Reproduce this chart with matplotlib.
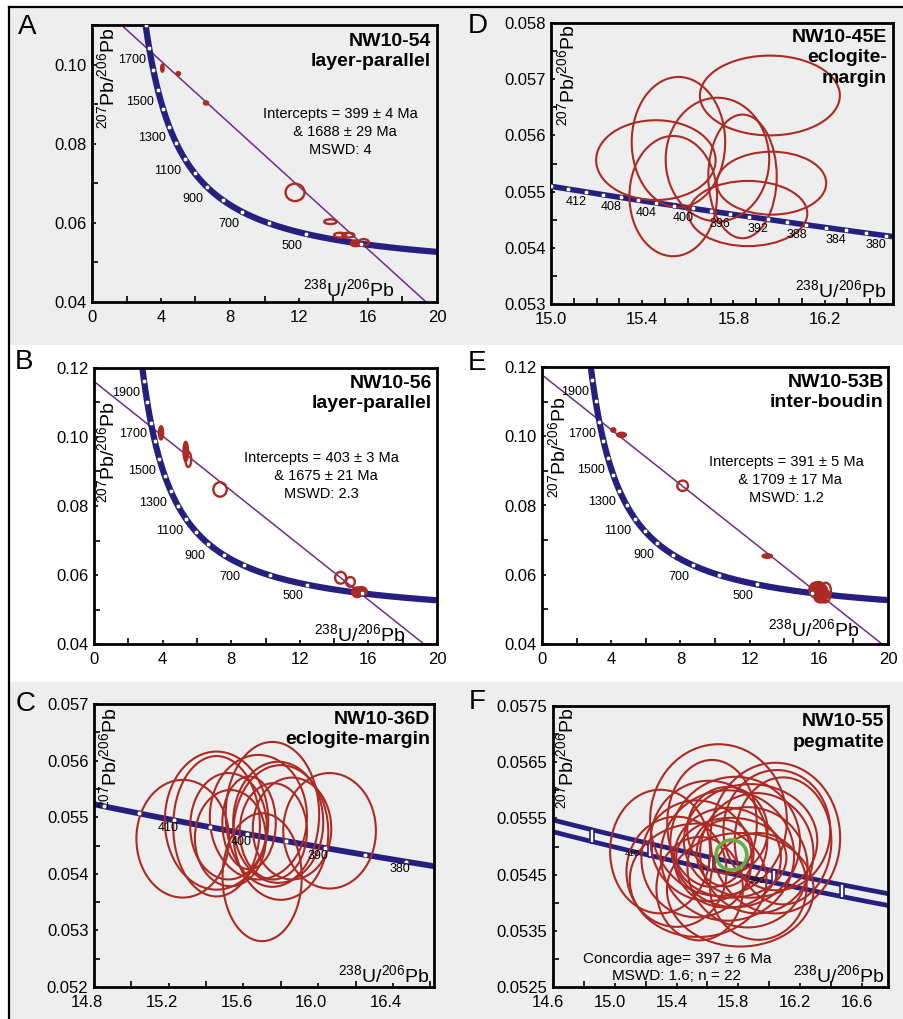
import numpy as np
import matplotlib
matplotlib.use('Agg')
import matplotlib.pyplot as plt
from matplotlib.patches import Ellipse, Rectangle
from matplotlib.lines import Line2D
from matplotlib.ticker import FixedLocator, MultipleLocator, FormatStrFormatter
from matplotlib.transforms import ScaledTranslation

plt.rcParams['font.family'] = ['Liberation Sans', 'DejaVu Sans']
plt.rcParams['mathtext.fontset'] = 'custom'
plt.rcParams['mathtext.rm'] = 'Liberation Sans'

NAVY = '#261f80'
PURPLE = '#6b2d8f'
RED = '#ac2a24'
GREEN = '#66ad44'
GRAY = '#eeeeee'

# decay constants (per Ma) -> Tera-Wasserburg concordia
L238 = 1.55125e-4
L235 = 9.8485e-4
U_RATIO = 137.88


def concordia(t):
    t = np.asarray(t, dtype=float)
    e8 = np.exp(L238 * t) - 1
    e5 = np.exp(L235 * t) - 1
    return 1 / e8, e5 / e8 / U_RATIO


# ---- panel A : NW10-54 ----
a_dot_ages = [400, 500, 600, 700, 800, 900, 1000, 1100, 1200, 1300, 1400, 1500, 1600, 1700, 1800]
a_lab_ages = [500, 700, 900, 1100, 1300, 1500, 1700]
a_intercepts = [399, 1688]
a_x = [4.08, 5.0, 6.61, 11.77, 13.82, 14.38, 14.86, 15.3, 15.75]
a_y = [0.0991, 0.0977, 0.0903, 0.0677, 0.0603, 0.0569, 0.0569, 0.0548, 0.0551]
a_hx = [0.07, 0.1, 0.12, 0.55, 0.36, 0.35, 0.35, 0.3, 0.3]
a_hy = [0.0009, 0.0004, 0.0004, 0.0022, 0.0006, 0.0006, 0.0006, 0.0007, 0.0008]
a_fill = [1, 1, 1, 0, 0, 0, 0, 1, 0]

# ---- panel B : NW10-56 ----
b_dot_ages = [400, 500, 600, 700, 800, 900, 1000, 1100, 1200, 1300, 1400, 1500, 1600, 1700, 1800, 1900]
b_lab_ages = [500, 700, 900, 1100, 1300, 1500, 1700, 1900]
b_intercepts = [403, 1675]
b_x = [3.91, 5.35, 5.5, 7.35, 14.38, 14.95, 15.35, 15.6]
b_y = [0.1012, 0.0958, 0.0935, 0.0848, 0.0592, 0.0580, 0.0550, 0.0553]
b_hx = [0.12, 0.13, 0.17, 0.39, 0.32, 0.26, 0.3, 0.3]
b_hy = [0.0019, 0.0028, 0.0022, 0.0021, 0.0017, 0.0014, 0.0014, 0.0012]
b_fill = [1, 1, 0, 0, 0, 0, 1, 1]

# ---- panel E : NW10-53B ----
e_intercepts = [391, 1709]
e_x = [4.12, 4.6, 8.13, 13.02, 15.85, 16.15, 16.0, 16.35, 16.4, 16.1]
e_y = [0.1018, 0.1004, 0.0857, 0.0654, 0.0556, 0.0548, 0.0560, 0.0538, 0.0555, 0.0535]
e_hx = [0.12, 0.25, 0.31, 0.27, 0.4, 0.35, 0.35, 0.3, 0.3, 0.35]
e_hy = [0.0005, 0.0006, 0.0015, 0.0005, 0.0022, 0.0025, 0.0019, 0.0018, 0.0022, 0.0015]
e_fill = [1, 1, 0, 1, 1, 1, 1, 0, 0, 0]

# ---- panel D : NW10-45E ----
d_dot_ages = [380, 382, 384, 386, 388, 390, 392, 394, 396, 398, 400, 402, 404, 406, 408, 410, 412, 414, 416]
d_lab_ages = [380, 384, 388, 392, 396, 400, 404, 408, 412]
d_x = [15.96, 15.559, 15.46, 15.536, 15.73, 15.84, 15.967, 15.864]
d_y = [0.05671, 0.05588, 0.05556, 0.05492, 0.05557, 0.05527, 0.05515, 0.05461]
d_hx = [0.307, 0.205, 0.262, 0.192, 0.227, 0.15, 0.24, 0.26]
d_hy = [0.00071, 0.00116, 0.00071, 0.00107, 0.0011, 0.0011, 0.00056, 0.00058]

# ---- panel C : NW10-36D ----
c_dot_ages = [380, 385, 390, 395, 400, 405, 410, 415, 420]
c_lab_ages = [380, 390, 400, 410]
c_x = [15.275, 15.70, 16.061, 15.755, 15.456, 15.456, 15.786, 15.80, 15.52, 15.63, 15.76, 15.53, 15.86, 15.68]
c_y = [0.05462, 0.05394, 0.05476, 0.05505, 0.05494, 0.05484, 0.05491, 0.05473, 0.05484, 0.05490, 0.05475,
       0.05463, 0.05480, 0.05500]
c_hx = [0.248, 0.212, 0.248, 0.25, 0.277, 0.232, 0.241, 0.254, 0.205, 0.143, 0.18, 0.19, 0.21, 0.26]
c_hy = [0.00104, 0.00113, 0.00102, 0.00128, 0.00122, 0.00124, 0.00107, 0.00119, 0.00094, 0.00082, 0.00085,
        0.00085, 0.0009, 0.0011]

# ---- panel F : NW10-55 ----
f_mark_ages = [380, 390, 400, 410, 420]
f_lab_ages = [390, 410]
f_x = [15.294, 15.40, 15.672, 16.04, 16.09, 15.813, 15.54, 15.715, 15.78, 15.73, 15.73, 15.88, 15.61, 15.86,
       15.53, 15.92, 15.63, 16.05, 15.55, 15.93, 15.73, 15.755]
f_y = [0.05491, 0.05455, 0.05547, 0.05515, 0.0551, 0.05423, 0.0544, 0.05488, 0.05508, 0.05484, 0.0548,
       0.0551, 0.0551, 0.05463, 0.05478, 0.05488, 0.05541, 0.05529, 0.05425, 0.05429, 0.05529, 0.0548]
f_hx = [0.324, 0.324, 0.443, 0.42, 0.313, 0.475, 0.443, 0.184, 0.42, 0.432, 0.346, 0.432, 0.378, 0.389,
        0.357, 0.367, 0.29, 0.346, 0.28, 0.313, 0.26, 0.357]
f_hy = [0.0011, 0.00098, 0.00135, 0.00134, 0.00113, 0.00101, 0.00101, 0.00059, 0.00116, 0.00116, 0.00089,
        0.00101, 0.00107, 0.00107, 0.00104, 0.00107, 0.00113, 0.00107, 0.00092, 0.00095, 0.00077, 0.00071]
f_mean = (15.756, 0.05485, 0.0994, 0.000267)
f_band = 0.000105

W, H = 904, 1019
fig = plt.figure(figsize=(W / 100, H / 100), dpi=100)

# grey strips behind rows 1 and 3, frame lines
fig.add_artist(Rectangle((9 / W, 1 - 345 / H), 1, 338 / H, transform=fig.transFigure, fc=GRAY, ec='none', zorder=-5))
fig.add_artist(Rectangle((9 / W, 0), 1, 1 - 682 / H, transform=fig.transFigure, fc=GRAY, ec='none', zorder=-5))
fig.add_artist(Line2D([9 / W, 1], [1 - 7 / H] * 2, transform=fig.transFigure, color='black', lw=1.6))
fig.add_artist(Line2D([9 / W] * 2, [0, 1 - 7 / H], transform=fig.transFigure, color='black', lw=1.6))


def add_axes(l, t, r, b):
    ax = fig.add_axes([l / W, 1 - b / H, (r - l) / W, (b - t) / H])
    ax.set_facecolor('none')
    for s in ax.spines.values():
        s.set_linewidth(2)
    return ax


def style(ax, xlim, ylim, xticks, xminor, yticks, yminor, xfmt, yfmt):
    ax.set_xlim(xlim)
    ax.set_ylim(ylim)
    ax.xaxis.set_major_locator(FixedLocator(xticks))
    ax.xaxis.set_minor_locator(MultipleLocator(xminor))
    ax.yaxis.set_major_locator(FixedLocator(yticks))
    ax.yaxis.set_minor_locator(MultipleLocator(yminor))
    ax.xaxis.set_major_formatter(FormatStrFormatter(xfmt))
    ax.yaxis.set_major_formatter(FormatStrFormatter(yfmt))
    ax.tick_params(which='both', direction='in', width=1.2, labelsize=12, pad=4)
    ax.tick_params(axis='x', which='both', pad=6)
    ax.tick_params(which='major', length=3)
    ax.tick_params(which='minor', length=4)


def labels(ax, title, ylab_pos, xlab_pos, title_pos):
    ax.text(*title_pos, title, transform=ax.transAxes, ha='right', va='top', fontsize=14,
            fontweight='bold', linespacing=1.25)
    ax.text(*ylab_pos, r'$^{207}$Pb/$^{206}$Pb', transform=ax.transAxes, rotation=90,
            ha='center', va='top', fontsize=14)
    ax.text(*xlab_pos, r'$^{238}$U/$^{206}$Pb', transform=ax.transAxes, ha='right',
            va='baseline', fontsize=14)


def ellipses(ax, xs, ys, hxs, hys, fills=None, lw=1.5):
    for i in range(len(xs)):
        filled = fills is not None and fills[i]
        ax.add_patch(Ellipse((xs[i], ys[i]), 2 * hxs[i], 2 * hys[i], fill=bool(filled),
                             fc=RED if filled else 'none', ec=RED, lw=lw, zorder=3))


def big_concordia(ax, dot_ages, lab_ages, intercepts, ell, inter_text, inter_pos):
    t = np.linspace(300, 2100, 600)
    cx, cy = concordia(t)
    ax.plot(cx, cy, color=NAVY, lw=4.5, zorder=2, solid_capstyle='butt')
    dx, dy = concordia(dot_ages)
    ax.plot(dx, dy, 'o', ms=3.2, mfc='white', mec='#333333', mew=0.4, zorder=4)
    for age in lab_ages:
        ax.annotate(str(age), concordia(age), xytext=(-2.5, -8.5), textcoords='offset points',
                    ha='right', va='center', fontsize=9, zorder=5)
    p1 = concordia(intercepts[0])
    p2 = concordia(intercepts[1])
    ax.axline((float(p1[0]), float(p1[1])), (float(p2[0]), float(p2[1])), color=PURPLE, lw=1.1, zorder=1)
    ellipses(ax, *ell, lw=1.7)
    ax.text(*inter_pos, inter_text, transform=ax.transAxes, ha='center', va='center',
            multialignment='center', fontsize=10.5, linespacing=1.4)


# ---------- A ----------
ax = add_axes(92, 25, 437, 302)
style(ax, (0, 20), (0.04, 0.11), [0, 4, 8, 12, 16, 20], 2, [0.04, 0.06, 0.08, 0.10], 0.01, '%d', '%.2f')
big_concordia(ax, a_dot_ages, a_lab_ages, a_intercepts, (a_x, a_y, a_hx, a_hy, a_fill),
              'Intercepts = 399 ± 4 Ma\n  & 1688 ± 29 Ma\nMSWD: 4', (0.72, 0.614))
labels(ax, 'NW10-54\nlayer-parallel', (0.045, 0.989), (0.878, 0.018), (0.983, 0.971))

# ---------- B ----------
ax = add_axes(94, 368, 437, 644)
style(ax, (0, 20), (0.04, 0.12), [0, 4, 8, 12, 16, 20], 2, [0.04, 0.06, 0.08, 0.10, 0.12], 0.01, '%d', '%.2f')
big_concordia(ax, b_dot_ages, b_lab_ages, b_intercepts, (b_x, b_y, b_hx, b_hy, b_fill),
              'Intercepts = 403 ± 3 Ma\n  & 1675 ± 21 Ma\nMSWD: 2.3', (0.664, 0.609))
labels(ax, 'NW10-56\nlayer-parallel', (0.04, 0.878), (0.907, 0.006), (0.985, 0.975))

# ---------- E ----------
ax = add_axes(542, 367, 888, 644)
style(ax, (0, 20), (0.04, 0.12), [0, 4, 8, 12, 16, 20], 2, [0.04, 0.06, 0.08, 0.10, 0.12], 0.01, '%d', '%.2f')
big_concordia(ax, b_dot_ages, b_lab_ages, e_intercepts, (e_x, e_y, e_hx, e_hy, e_fill),
              'Intercepts = 391 ± 5 Ma\n  & 1709 ± 17 Ma\nMSWD: 1.2', (0.705, 0.592))
labels(ax, 'NW10-53B\ninter-boudin', (0.049, 0.893), (0.919, 0.026), (0.988, 0.975))

# ---------- D ----------
ax = add_axes(551, 23, 893, 304)
style(ax, (15.0, 16.5), (0.053, 0.058), [15.0, 15.4, 15.8, 16.2], 0.1,
      [0.053, 0.054, 0.055, 0.056, 0.057, 0.058], 0.0005, '%.1f', '%.3f')
t = np.linspace(370, 425, 200)
ax.plot(*concordia(t), color=NAVY, lw=4, zorder=2)
ax.plot(*concordia(d_dot_ages), 'o', ms=3.2, mfc='white', mec='#333333', mew=0.4, zorder=4)
for age in d_lab_ages:
    ax.annotate(str(age), concordia(age), xytext=(0.5, -7), textcoords='offset points',
                ha='right', va='center', fontsize=9, zorder=5)
ellipses(ax, d_x, d_y, d_hx, d_hy)
labels(ax, 'NW10-45E\neclogite-\nmargin', (0.048, 0.993), (0.982, 0.02), (0.982, 0.978))

# ---------- C ----------
ax = add_axes(94, 704, 434, 987)
style(ax, (14.8, 16.62), (0.052, 0.057), [14.8, 15.2, 15.6, 16.0, 16.4], 0.2,
      [0.052, 0.053, 0.054, 0.055, 0.056, 0.057], 0.0005, '%.1f', '%.3f')
ax.plot(*concordia(t), color=NAVY, lw=4.2, zorder=2)
ax.plot(*concordia(c_dot_ages), 'o', ms=3.4, mfc='white', mec='#333333', mew=0.4, zorder=4)
for age in c_lab_ages:
    ax.annotate(str(age), concordia(age), xytext=(-4.5, -5.5), textcoords='offset points',
                ha='center', va='center', fontsize=9, zorder=5)
ellipses(ax, c_x, c_y, c_hx, c_hy)
labels(ax, 'NW10-36D\neclogite-margin', (0.047, 0.986), (0.988, 0.013), (0.988, 0.976))
for lab in ax.get_xticklabels():
    lab.set_transform(lab.get_transform() + ScaledTranslation(-0.07, 0, fig.dpi_scale_trans))

# ---------- F ----------
ax = add_axes(553, 706, 888, 987)
style(ax, (14.6, 16.77), (0.0525, 0.0575), [14.6, 15.0, 15.4, 15.8, 16.2, 16.6], 0.2,
      [0.0525, 0.0535, 0.0545, 0.0555, 0.0565, 0.0575], 0.0005, '%.1f', '%.4f')
tx, ty = concordia(np.linspace(360, 440, 200))
ax.plot(tx, ty + f_band, color=NAVY, lw=3.4, zorder=2)
ax.plot(tx, ty - f_band, color=NAVY, lw=3.4, zorder=2)
rect = [(-0.35, -1), (0.35, -1), (0.35, 1), (-0.35, 1), (-0.35, -1)]
ax.plot(*concordia(f_mark_ages), linestyle='none', marker=rect, ms=10, mfc='white', mec=NAVY,
        mew=1.2, zorder=2.5)
for age in f_lab_ages:
    ax.annotate(str(age), concordia(age), xytext=(-12.5, -2.6), textcoords='offset points',
                ha='center', va='center', fontsize=6.5, zorder=5)
ellipses(ax, f_x, f_y, f_hx, f_hy)
ax.add_patch(Ellipse(f_mean[:2], 2 * f_mean[2], 2 * f_mean[3], fill=False, ec=GREEN, lw=2.6, zorder=6))
ax.text(0.37, 0.07, 'Concordia age= 397 ± 6 Ma\nMSWD: 1.6; n = 22', transform=ax.transAxes,
        ha='center', va='center', fontsize=11, linespacing=1.25)
labels(ax, 'NW10-55\npegmatite', (0.042, 0.993), (0.991, 0.013), (0.989, 0.974))
for lab in ax.get_xticklabels():
    lab.set_transform(lab.get_transform() + ScaledTranslation(-0.05, 0, fig.dpi_scale_trans))

# panel letters
for letter, px, py in [('A', 27, 27), ('D', 478, 26), ('B', 24, 362), ('E', 477, 363),
                       ('C', 26, 704), ('F', 477, 702)]:
    fig.text(px / W, 1 - py / H, letter, ha='center', va='center', fontsize=20)

fig.savefig('out.png', dpi=100)
